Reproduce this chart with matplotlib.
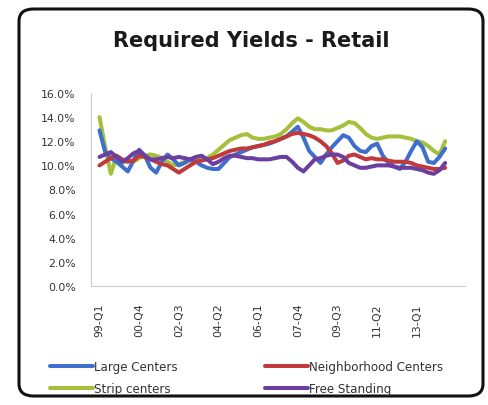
import matplotlib
matplotlib.use("Agg")
import matplotlib.pyplot as plt
from matplotlib.patches import FancyBboxPatch
import numpy as np

tick_labels = ["99-Q1", "00-Q4", "02-Q3", "04-Q2", "06-Q1", "07-Q4", "09-Q3", "11-Q2", "13-Q1"]

large_centers = [12.9, 11.1, 10.6, 10.3, 9.9, 9.5, 10.4, 11.3, 10.8, 9.8, 9.4, 10.3, 10.9, 10.5,
                 10.0, 10.2, 10.5, 10.3, 10.0, 9.8, 9.7, 9.7, 10.2, 10.7, 10.9, 11.1, 11.3, 11.5,
                 11.6, 11.7, 11.8, 12.0, 12.2, 12.4, 12.8, 13.2, 12.3, 11.2, 10.7, 10.2, 10.9, 11.5,
                 12.0, 12.5, 12.3, 11.6, 11.2, 11.1, 11.6, 11.8, 10.8, 10.2, 9.9, 9.7, 10.3, 11.2,
                 12.0, 11.5, 10.3, 10.2, 10.7, 11.4]
neighborhood_centers = [10.0, 10.3, 10.6, 10.8, 10.5, 10.3, 10.4, 10.8, 10.7, 10.5, 10.3, 10.1, 10.0, 9.7,
                        9.4, 9.7, 10.0, 10.3, 10.4, 10.5, 10.6, 10.8, 11.0, 11.2, 11.3, 11.4, 11.4, 11.5,
                        11.6, 11.7, 11.9, 12.0, 12.2, 12.4, 12.6, 12.7, 12.6, 12.5, 12.3, 12.0, 11.6, 11.0,
                        10.2, 10.4, 10.8, 10.9, 10.7, 10.5, 10.6, 10.5, 10.5, 10.4, 10.3, 10.3, 10.3, 10.2,
                        10.0, 9.9, 9.8, 9.7, 9.7, 9.8]
strip_centers = [14.0, 11.5, 9.3, 10.8, 10.2, 10.4, 10.3, 10.6, 10.8, 10.9, 10.8, 10.6, 10.3, 10.0,
                 10.1, 10.3, 10.4, 10.5, 10.4, 10.6, 10.9, 11.3, 11.7, 12.1, 12.3, 12.5, 12.6, 12.3,
                 12.2, 12.2, 12.3, 12.4, 12.6, 13.0, 13.5, 13.9, 13.6, 13.2, 13.0, 13.0, 12.9, 12.9,
                 13.1, 13.3, 13.6, 13.5, 13.1, 12.6, 12.3, 12.2, 12.3, 12.4, 12.4, 12.4, 12.3, 12.2,
                 12.0, 11.9, 11.6, 11.2, 10.9, 12.0]
free_standing = [10.7, 10.9, 11.1, 10.7, 10.3, 10.6, 11.0, 11.2, 10.8, 10.5, 10.5, 10.6, 10.7, 10.6,
                 10.7, 10.6, 10.5, 10.7, 10.8, 10.5, 10.1, 10.3, 10.6, 10.8, 10.8, 10.7, 10.6, 10.6,
                 10.5, 10.5, 10.5, 10.6, 10.7, 10.7, 10.3, 9.8, 9.5, 10.0, 10.5, 10.6, 10.8, 10.9,
                 10.9, 10.7, 10.2, 10.0, 9.8, 9.8, 9.9, 10.0, 10.0, 10.0, 9.9, 9.8, 9.8, 9.8,
                 9.7, 9.6, 9.4, 9.3, 9.6, 10.2]

series_names = ["Large Centers", "Neighborhood Centers", "Strip centers", "Free Standing"]
colors = ["#3F6FCC", "#C0393B", "#A5C03A", "#6A3FA0"]

W, H = 489, 406
fig = plt.figure(figsize=(W / 100, H / 100), dpi=100)
fig.patch.set_facecolor("white")

# rounded frame
frame = FancyBboxPatch((19 / W, 9 / H), (483 - 19) / W, (396 - 9) / H,
                       boxstyle="round,pad=0,rounding_size=0.03",
                       transform=fig.transFigure, facecolor="none",
                       edgecolor="#111111", linewidth=2.2, zorder=-1)
fig.patches.append(frame)

fig.text(251 / W, 1 - 41 / H, "Required Yields - Retail", ha="center", va="center",
         fontsize=15, fontweight="bold", color="#1a1a1a", family="DejaVu Sans")

ax = fig.add_axes([91 / W, 1 - 287 / H, (465 - 91) / W, (287 - 94) / H])
ax.set_facecolor("none")
ax.set_zorder(2)
x = np.arange(len(large_centers))
data = [large_centers, neighborhood_centers, strip_centers, free_standing]
order = [2, 0, 1, 3]
handles = {}
for k in order:
    ln, = ax.plot(x, data[k], color=colors[k], lw=2.9, solid_joinstyle="round",
                  solid_capstyle="round", label=series_names[k])
    handles[k] = ln

ax.set_ylim(0, 16)
ax.set_xlim(-1.5, 64.5)
ax.set_yticks(np.arange(0, 16.1, 2))
ax.set_yticklabels([f"{v:.1f}%" for v in np.arange(0, 16.1, 2)], fontsize=7.8, color="#333333")
ax.set_xticks(np.arange(0, 57, 7))
ax.set_xticklabels(tick_labels, rotation=90, fontsize=7.8, color="#333333")
for s in ["top", "right"]:
    ax.spines[s].set_visible(False)
for s in ["left", "bottom"]:
    ax.spines[s].set_color("#cccccc")
    ax.spines[s].set_linewidth(0.8)
ax.tick_params(axis="y", length=0, pad=11)
ax.tick_params(axis="x", length=0, pad=12)

common = dict(frameon=False, fontsize=8.6, handlelength=3.6, handletextpad=0.1,
              labelspacing=0.75, borderaxespad=0, borderpad=0, loc="upper left")
leg1 = fig.legend([handles[0], handles[2]], [series_names[0], series_names[2]],
                  bbox_to_anchor=(50 / W, 1 - 361 / H), **common)
leg2 = fig.legend([handles[1], handles[3]], [series_names[1], series_names[3]],
                  bbox_to_anchor=(265 / W, 1 - 361 / H), **common)
for leg in (leg1, leg2):
    for t in leg.get_texts():
        t.set_color("#333333")

fig.savefig("out.png", dpi=100, facecolor="white")
